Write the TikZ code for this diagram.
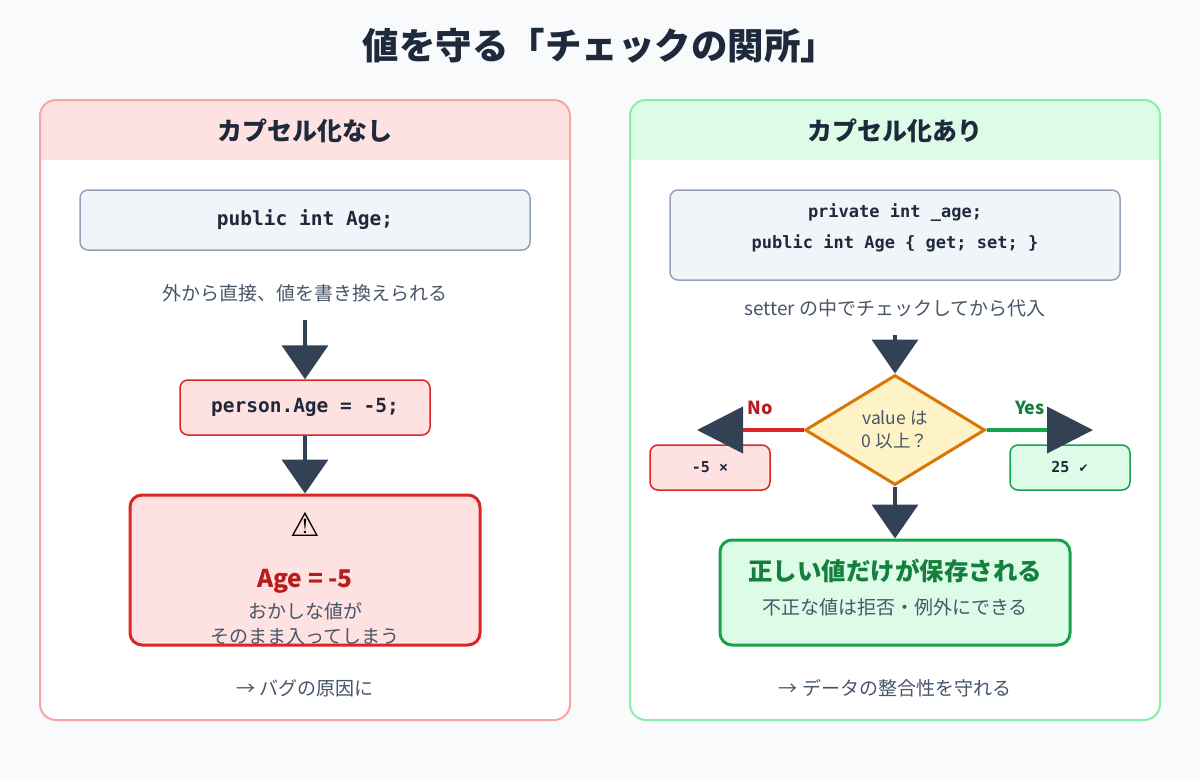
\documentclass[tikz,border=0pt]{standalone}
\usepackage{fontspec}
\setmainfont{Noto Sans CJK JP}
\newfontfamily\mono{DejaVu Sans Mono}
\newfontfamily\dejavu{DejaVu Sans}
\usetikzlibrary{arrows.meta,shapes.geometric}
\definecolor{bg}{HTML}{F8FAFC}
\definecolor{dark}{HTML}{334155}
\definecolor{txt}{HTML}{475569}
\definecolor{ttl}{HTML}{1E293B}
\definecolor{redS}{HTML}{DC2626}
\definecolor{redF}{HTML}{FEE2E2}
\definecolor{redP}{HTML}{F8A5A5}
\definecolor{redT}{HTML}{B91C1C}
\definecolor{grnS}{HTML}{16A34A}
\definecolor{grnF}{HTML}{DCFCE7}
\definecolor{grnP}{HTML}{86EFAC}
\definecolor{grnT}{HTML}{15803D}
\definecolor{codeF}{HTML}{F1F5F9}
\definecolor{codeS}{HTML}{94A3B8}
\definecolor{ambF}{HTML}{FEF3C7}
\definecolor{ambS}{HTML}{D97706}
\tikzset{
 box/.style={rectangle,rounded corners=8pt,line width=1.5pt,inner sep=0pt},
 code/.style={box,fill=codeF,draw=codeS,text=ttl,font=\mono\bfseries\fontsize{19.5}{26}\selectfont,align=center},
 lbl/.style={text=txt,font=\fontsize{19}{22}\selectfont,align=center},
 arr/.style={line width=4pt,draw=dark,-{Triangle[width=46pt,length=34pt,color=dark]}},
}
\begin{document}
\begin{tikzpicture}[x=1pt,y=-1pt]
\fill[bg] (0,0) rectangle (1200,780);
\useasboundingbox (0,0) rectangle (1200,780);
\node[text=ttl,font=\bfseries\fontsize{36.5}{40}\selectfont] (title) at (600,46) {値を守る「チェックの関所」};
% left panel
\begin{scope}
\clip[rounded corners=16pt] (40,100) rectangle (570,720);
\fill[white] (40,100) rectangle (570,720);
\fill[redF] (40,100) rectangle (570,160);
\end{scope}
\draw[redP,line width=2pt,rounded corners=16pt] (40,100) rectangle (570,720);
\node[text=ttl,font=\bfseries\fontsize{25}{28}\selectfont] (lh) at (305,131) {カプセル化なし};
\node[code,minimum width=450pt,minimum height=60pt] (lc) at (305,220) {public int Age;};
\node[lbl] (lt) at (305,293) {外から直接、値を書き換えられる};
\coordinate (la) at (305,320);
\node[box,fill=redF,draw=redS,minimum width=250pt,minimum height=55pt,text=ttl,font=\mono\bfseries\fontsize{19.5}{20}\selectfont] (lp) at (305,407.5) {person.Age = -5;};
\node[box,fill=redF,draw=redS,line width=3pt,minimum width=350pt,minimum height=150pt,rounded corners=12pt] (lb) at (305,570) {};
\node[font=\dejavu\fontsize{33}{34}\selectfont] (warn) at (305,524) {⚠};
\node[text=redT,font=\bfseries\fontsize{24.5}{26}\selectfont] (lage) at (305,581) {Age = -5};
\node[lbl,font=\fontsize{19}{25}\selectfont] (lmsg) at (305,624) {おかしな値が\\そのまま入ってしまう};
\node[lbl] (lf) at (305,688) {→ バグの原因に};
\draw[arr] (la) -- (lp.north);
\draw[arr] (lp.south) -- (lb.north);
% right panel
\begin{scope}
\clip[rounded corners=16pt] (630,100) rectangle (1160,720);
\fill[white] (630,100) rectangle (1160,720);
\fill[grnF] (630,100) rectangle (1160,160);
\end{scope}
\draw[grnP,line width=2pt,rounded corners=16pt] (630,100) rectangle (1160,720);
\node[text=ttl,font=\bfseries\fontsize{25}{28}\selectfont] (rh) at (895,131) {カプセル化あり};
\node[code,minimum width=450pt,minimum height=90pt] (rc) at (895,235) {};
\node[text=ttl,align=center,font=\mono\bfseries\fontsize{17}{31}\selectfont] (rct) at (895,228) {private int \_age;\\public int Age \{ get; set; \}};
\node[lbl] (rt) at (895,308) {setter の中でチェックしてから代入};
\coordinate (ra) at (895,335);
\node[diamond,fill=ambF,draw=ambS,line width=3pt,minimum width=180pt,minimum height=110pt,aspect=1.64,inner sep=0pt,text=txt,font=\fontsize{17.5}{23}\selectfont,align=center] (dia) at (895,430) {value は\\0 以上？};
\node[box,fill=redF,draw=redS,minimum width=120pt,minimum height=45pt,text=ttl,font=\mono\bfseries\fontsize{15}{16}\selectfont] (no) at (710,467.5) {-5 ×};
\node[box,fill=grnF,draw=grnS,minimum width=120pt,minimum height=45pt,text=ttl,font=\mono\bfseries\fontsize{15}{16}\selectfont] (yes) at (1070,467.5) {25 {\dejavu\fontsize{12}{12}\selectfont ✔}};
\coordinate (nend) at (697,430);
\coordinate (yend) at (1093,430);
\draw[line width=4pt,redS,-{Triangle[width=46pt,length=46pt,color=dark]}] (dia.west) -- (nend);
\draw[line width=4pt,grnS,-{Triangle[width=46pt,length=46pt,color=dark]}] (dia.east) -- (yend);
\node[text=redT,font=\bfseries\fontsize{18}{20}\selectfont] (nol) at (760,408) {No};
\node[text=grnT,font=\bfseries\fontsize{18}{20}\selectfont] (yesl) at (1030,408) {Yes};
\node[box,fill=grnF,draw=grnS,line width=3pt,minimum width=350pt,minimum height=105pt,rounded corners=12pt] (rb) at (895,592.5) {};
\node[text=grnT,font=\bfseries\fontsize{24.5}{26}\selectfont] (rok) at (895,571) {正しい値だけが保存される};
\node[lbl] (rmsg) at (895,607) {不正な値は拒否・例外にできる};
\node[lbl] (rf) at (895,688) {→ データの整合性を守れる};
\draw[arr] (ra) -- (dia.north);
\draw[arr] (dia.south) -- (rb.north);
\end{tikzpicture}
\end{document}
